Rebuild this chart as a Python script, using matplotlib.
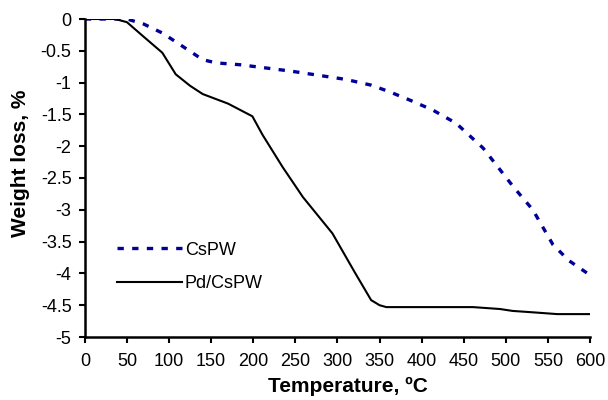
import matplotlib
matplotlib.use("Agg")
import matplotlib.pyplot as plt
from matplotlib.ticker import FuncFormatter, MultipleLocator

plt.rcParams['font.family'] = ['Liberation Sans', 'DejaVu Sans']
plt.rcParams['axes.unicode_minus'] = False

# TGA curves: temperature (C) vs weight loss (%)
temp_cspw = [0, 30, 50, 70, 92, 115, 140, 156, 185, 215, 245, 275, 310, 340, 361, 385, 413, 441, 473, 509, 532, 556, 575, 597]
loss_cspw = [0, 0, 0, -0.08, -0.22, -0.42, -0.64, -0.69, -0.72, -0.77, -0.82, -0.88, -0.95, -1.04, -1.14, -1.27, -1.43, -1.64, -2.03, -2.64, -3.0, -3.55, -3.8, -4.0]

temp_pd = [0, 36, 50, 70, 92, 108, 125, 140, 170, 199, 211, 235, 259, 294, 320, 340, 350, 358, 400, 461, 493, 508, 530, 561, 600]
loss_pd = [0, 0, -0.05, -0.28, -0.53, -0.87, -1.05, -1.18, -1.33, -1.53, -1.82, -2.33, -2.8, -3.37, -3.97, -4.42, -4.5, -4.53, -4.53, -4.53, -4.56, -4.59, -4.61, -4.64, -4.64]

fig = plt.figure(figsize=(6.08, 4.0), dpi=100)
ax = fig.add_axes([0.1395, 0.1575, 0.831, 0.795])

ax.plot(temp_cspw, loss_cspw, color='#000099', lw=2.4, dashes=(1.9, 2.5), label='CsPW')
ax.plot(temp_pd, loss_pd, color='black', lw=1.5, label='Pd/CsPW')

ax.set_xlim(0, 600)
ax.set_ylim(-5, 0)
ax.xaxis.set_major_locator(MultipleLocator(50))
ax.yaxis.set_major_locator(MultipleLocator(0.5))
ax.yaxis.set_major_formatter(FuncFormatter(lambda v, p: '%g' % v))

for side in ('top', 'right'):
    ax.spines[side].set_visible(False)
for side in ('left', 'bottom'):
    ax.spines[side].set_linewidth(1.8)
ax.tick_params(direction='out', length=4.5, width=1.5, labelsize=13)
ax.tick_params(axis='x', pad=7)
ax.tick_params(axis='y', pad=5)

ax.set_xlabel('Temperature, \u00baC', fontsize=15, fontweight='bold', labelpad=5)
ax.set_ylabel('Weight loss, %', fontsize=15, fontweight='bold', labelpad=8)
# axis titles sit a little off-centre
ax.xaxis.label.set_x(0.52)
ax.yaxis.label.set_y(0.547)

ax.legend(loc='lower left', bbox_to_anchor=(0.032, 0.09), frameon=False, fontsize=13,
          handlelength=3.6, handletextpad=0.15, labelspacing=0.92)

fig.savefig('out.png', dpi=100)
